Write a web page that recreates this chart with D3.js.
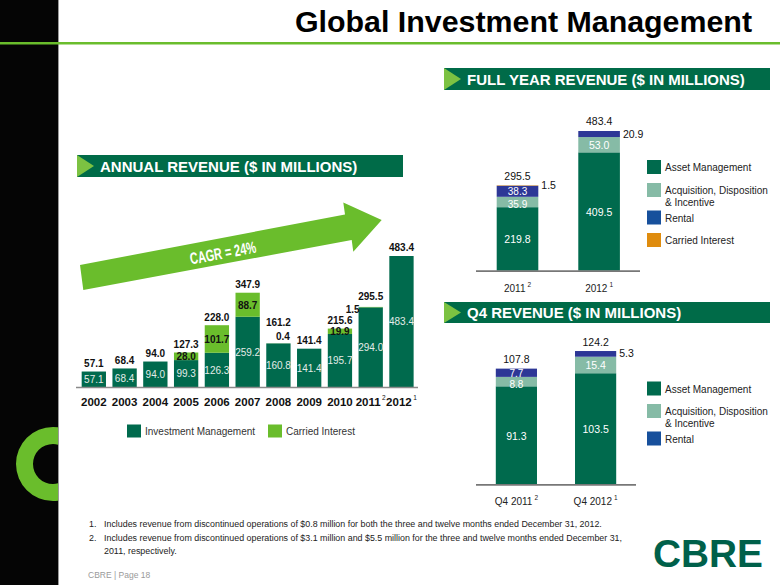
<!DOCTYPE html>
<html><head><meta charset="utf-8">
<script src="https://cdn.jsdelivr.net/npm/d3@7"></script>
<style>
html,body{margin:0;padding:0;background:#fff;}
svg{display:block;font-family:"Liberation Sans",Arial,sans-serif;}
</style></head>
<body><svg id="c" width="780" height="585"></svg>
<script>
// ---------- DATA ----------
const years = ["2002","2003","2004","2005","2006","2007","2008","2009","2010","2011","2012"];
const yearNotes = ["","","","","","","","","","2","1"];
const investMgmt = [57.1,68.4,94.0,99.3,126.3,259.2,160.8,141.4,195.7,294.0,483.4];
const carriedInt = [0,0,0,28.0,101.7,88.7,0.4,0,19.9,1.5,0];
const annualTotals = [57.1,68.4,94.0,127.3,228.0,347.9,161.2,141.4,215.6,295.5,483.4];

const fyCats = ["2011","2012"];
const fyNotes = ["2","1"];
const fyAsset = [219.8,409.5];
const fyAcq = [35.9,53.0];
const fyRental = [38.3,20.9];
const fyCarried = [1.5,0];
const fyTotals = [295.5,483.4];

const q4Cats = ["Q4 2011","Q4 2012"];
const q4Notes = ["2","1"];
const q4Asset = [91.3,103.5];
const q4Acq = [8.8,15.4];
const q4Rental = [7.7,5.3];
const q4Totals = [107.8,124.2];

const footnotes = [
  ["1.","Includes revenue from discontinued operations of $0.8 million for both the three and twelve months ended December 31, 2012."],
  ["2.","Includes revenue from discontinued operations of $3.1 million and $5.5 million for the three and twelve months ended December 31,"],
  ["","2011, respectively."]
];

// ---------- STYLE ----------
const C = {dark:"#006A4D", lime:"#6ABD2C", teal:"#86BBA6", rental:"#2D3796", rentalLeg:"#17509C", orange:"#DF8C0E", grey:"#8a8a8a"};
const fmt = d3.format(".1f");
const svg = d3.select("#c");

// ---------- FRAME ----------
svg.append("rect").attr("x",0).attr("y",0).attr("width",58).attr("height",585).attr("fill","#050505");
svg.append("line").attr("x1",58.5).attr("x2",58.5).attr("y1",0).attr("y2",585).attr("stroke","#9a9a9a").attr("stroke-width",1);
svg.append("defs").append("clipPath").attr("id","strip").append("rect").attr("x",0).attr("y",0).attr("width",58).attr("height",585);
svg.append("g").attr("clip-path","url(#strip)")
  .append("path")
  .attr("d", d3.arc().innerRadius(20).outerRadius(37).startAngle(0).endAngle(2*Math.PI)())
  .attr("transform","translate(53,464)").attr("fill",C.lime);
svg.append("rect").attr("x",0).attr("y",42).attr("width",780).attr("height",2.5).attr("fill",C.lime);
svg.append("text").attr("x",752).attr("y",32).attr("text-anchor","end")
  .attr("font-size",29).attr("font-weight","bold").attr("fill","#000")
  .attr("textLength",457).attr("lengthAdjust","spacingAndGlyphs")
  .text("Global Investment Management");

function header(x0,x1,y0,y1,label){
  svg.append("rect").attr("x",x0).attr("y",y0).attr("width",x1-x0).attr("height",y1-y0).attr("fill","#006B48");
  const h=y1-y0;
  svg.append("path").attr("d",`M${x0},${y0}L${x0+17},${y0+h/2}L${x0},${y1}Z`).attr("fill","#7CC242");
  svg.append("text").attr("x",x0+23).attr("y",y0+h/2+5.5).attr("font-size",15).attr("font-weight","bold")
    .attr("fill","#fff").text(label);
}
header(77,403,155,177,"ANNUAL REVENUE ($ IN MILLIONS)");
header(444,770,68,90,"FULL YEAR REVENUE ($ IN MILLIONS)");
header(444,770,302,323,"Q4 REVENUE ($ IN MILLIONS)");

// ---------- CAGR ARROW ----------
svg.append("path").attr("d","M80,265L345,214.5L343.3,202.5L381.7,220L353.3,251.7L351.7,240L83.3,290Z").attr("fill",C.lime);
svg.append("text").attr("transform","translate(224,258.5) rotate(-10.5)").attr("text-anchor","middle")
  .attr("font-family","'Liberation Sans Narrow','Liberation Sans',Arial,sans-serif")
  .attr("font-size",16.5).attr("font-weight","bold").attr("fill","#fff")
  .attr("textLength",67).attr("lengthAdjust","spacingAndGlyphs").text("CAGR = 24%");

// ---------- ANNUAL CHART ----------
const ax = d3.scaleBand().domain(years).range([78.6,416.7]).paddingInner(0.21).paddingOuter(0.1);
const ay = d3.scaleLinear().domain([0,500]).range([387,251.5]);
const ag = svg.append("g");
ag.selectAll("rect.im").data(years).join("rect")
  .attr("x",d=>ax(d)).attr("width",ax.bandwidth())
  .attr("y",(d,i)=>ay(investMgmt[i])).attr("height",(d,i)=>ay(0)-ay(investMgmt[i])).attr("fill",C.dark);
ag.selectAll("rect.ci").data(years).join("rect")
  .attr("x",d=>ax(d)).attr("width",ax.bandwidth())
  .attr("y",(d,i)=>ay(investMgmt[i]+carriedInt[i])).attr("height",(d,i)=>ay(investMgmt[i])-ay(investMgmt[i]+carriedInt[i]))
  .attr("fill",C.lime);
const axisA = ag.append("g").attr("transform",`translate(0,${ay(0)})`)
  .call(d3.axisBottom(ax).tickSize(0).tickPadding(11).tickSizeOuter(0));
axisA.select(".domain").remove();
ag.append("line").attr("x1",76).attr("x2",418).attr("y1",ay(0)+0.5).attr("y2",ay(0)+0.5).attr("stroke",C.grey).attr("stroke-width",1.5);
axisA.selectAll(".tick text").attr("font-size",11.5).attr("font-weight","bold").attr("fill","#111")
  .attr("font-family","'Liberation Sans',Arial,sans-serif")
  .each(function(d,i){ const n=yearNotes[i]; if(n){ d3.select(this).append("tspan").attr("font-size",6.5).attr("font-weight","normal").attr("dy",-6).attr("dx",1.5).text(n);} });
ag.selectAll("text.im").data(years).join("text")
  .attr("x",d=>ax(d)+ax.bandwidth()/2).attr("y",(d,i)=>(ay(investMgmt[i])+ay(0))/2+3.8)
  .attr("text-anchor","middle").attr("font-size",10).attr("fill","#e4ece8")
  .text((d,i)=>fmt(investMgmt[i]));
years.forEach((d,i)=>{
  const v=carriedInt[i]; if(!v) return;
  const cx=ax(d)+ax.bandwidth()/2;
  const top=ay(investMgmt[i]+v), bot=ay(investMgmt[i]);
  if(v<1){
    ag.append("text").attr("x",cx+4.5).attr("y",top-3).attr("text-anchor","middle").attr("font-size",10).attr("font-weight","bold").attr("fill","#111").text(fmt(v));
  } else if(v<5){
    ag.append("text").attr("x",ax(d)+1).attr("y",top+6.5).attr("text-anchor","end").attr("font-size",10).attr("font-weight","bold").attr("fill","#111").text(fmt(v));
  } else {
    ag.append("text").attr("x",cx).attr("y",(top+bot)/2+3.8).attr("text-anchor","middle").attr("font-size",10).attr("font-weight","bold").attr("fill","#111").text(fmt(v));
  }
});
ag.selectAll("text.tot").data(years).join("text")
  .attr("x",d=>ax(d)+ax.bandwidth()/2)
  .attr("y",(d,i)=>ay(annualTotals[i]) - 4.5 - ((carriedInt[i]>0 && carriedInt[i]<1)?13:0) - ((carriedInt[i]>=1 && carriedInt[i]<5)?2:0))
  .attr("text-anchor","middle").attr("font-size",10).attr("font-weight","bold").attr("fill","#111")
  .text((d,i)=>fmt(annualTotals[i]));
const alg=[["Investment Management",C.dark,127],["Carried Interest",C.lime,268]];
alg.forEach(([t,c,x])=>{
  svg.append("rect").attr("x",x).attr("y",424.5).attr("width",14).attr("height",13).attr("fill",c);
  svg.append("text").attr("x",x+18).attr("y",434.5).attr("font-size",10).attr("fill","#333").text(t);
});

// ---------- STACKED HELPER ----------
function stacked(cats,notes,series,totals,x,y,baseX0,baseX1,catY){
  const g=svg.append("g");
  const keys=series.map(s=>s.key);
  const rows=cats.map((c,i)=>{const o={cat:c}; series.forEach(s=>o[s.key]=s.vals[i]); return o;});
  const st=d3.stack().keys(keys)(rows);
  st.forEach((layer,li)=>{
    g.selectAll(null).data(layer).join("rect")
      .attr("x",d=>x(d.data.cat)).attr("width",x.bandwidth())
      .attr("y",d=>y(d[1])).attr("height",d=>y(d[0])-y(d[1])).attr("fill",series[li].color);
  });
  st.forEach((layer,li)=>{
    layer.forEach(d=>{
      const v=d[1]-d[0]; if(!v) return;
      const h=y(d[0])-y(d[1]);
      const mid=(y(d[0])+y(d[1]))/2;
      if(h>=8){
        const small=h<13;
        g.append("text").attr("x",x(d.data.cat)+x.bandwidth()/2)
          .attr("y",mid+(small?(li===1?6:4):4.5))
          .attr("text-anchor","middle").attr("font-size",small?10:10.5).attr("fill","#fff").text(fmt(v));
      } else {
        g.append("text").attr("x",x(d.data.cat)+x.bandwidth()+3).attr("y",mid+3.5)
          .attr("font-size",10.5).attr("fill","#111").text(fmt(v));
      }
    });
  });
  g.selectAll(null).data(cats).join("text")
    .attr("x",d=>x(d)+x.bandwidth()/2).attr("y",(d,i)=>y(totals[i])-5.5).attr("text-anchor","middle")
    .attr("font-size",10.5).attr("fill","#111").text((d,i)=>fmt(totals[i]));
  g.append("line").attr("x1",baseX0).attr("x2",baseX1).attr("y1",y(0)+0.5).attr("y2",y(0)+0.5).attr("stroke","#777").attr("stroke-width",1.8);
  const axG=g.append("g").attr("transform",`translate(0,${catY})`).call(d3.axisBottom(x).tickSize(0).tickPadding(0));
  axG.select(".domain").remove();
  axG.selectAll(".tick text").attr("font-size",10).attr("fill","#222").attr("dy",0)
    .attr("font-family","'Liberation Sans',Arial,sans-serif")
    .each(function(d,i){ d3.select(this).append("tspan").attr("font-size",6.5).attr("dy",-5).attr("dx",2).text(notes[i]); });
}
function legend(items,x,ys){
  items.forEach((it,i)=>{
    svg.append("rect").attr("x",x).attr("y",ys[i]).attr("width",14).attr("height",14).attr("fill",it[1]);
    it[0].forEach((line,j)=>{
      svg.append("text").attr("x",x+18).attr("y",ys[i]+11+j*11.5).attr("font-size",10).attr("fill","#222").text(line);
    });
  });
}

// ---------- FULL YEAR ----------
const fx=d3.scaleBand().domain(fyCats).range([476.3,640.3]).paddingInner(0.49).paddingOuter(0.25);
const fy=d3.scaleLinear().domain([0,500]).range([270.7,126.2]);
stacked(fyCats,fyNotes,[
  {key:"asset",vals:fyAsset,color:C.dark},
  {key:"acq",vals:fyAcq,color:C.teal},
  {key:"rental",vals:fyRental,color:C.rental},
  {key:"carried",vals:fyCarried,color:C.orange}],fyTotals,fx,fy,476,640,292);
legend([[["Asset Management"],C.dark],[["Acquisition, Disposition","& Incentive"],C.teal],[["Rental"],C.rentalLeg],[["Carried Interest"],C.orange]],647,[160,183,210.5,233]);

// ---------- Q4 ----------
const qx=d3.scaleBand().domain(q4Cats).range([476,636]).paddingInner(0.48).paddingOuter(0.25);
const qy=d3.scaleLinear().domain([0,130]).range([484.3,344.8]);
stacked(q4Cats,q4Notes,[
  {key:"asset",vals:q4Asset,color:C.dark},
  {key:"acq",vals:q4Acq,color:C.teal},
  {key:"rental",vals:q4Rental,color:C.rental}],q4Totals,qx,qy,476,636,505);
legend([[["Asset Management"],C.dark],[["Acquisition, Disposition","& Incentive"],C.teal],[["Rental"],C.rentalLeg]],647,[381.5,404,431.5]);

// ---------- FOOTNOTES ----------
const fy0=[527,541,553.5];
footnotes.forEach((f,i)=>{
  if(f[0]) svg.append("text").attr("x",89).attr("y",fy0[i]).attr("font-size",8.9).attr("fill","#222").text(f[0]);
  svg.append("text").attr("x",104).attr("y",fy0[i]).attr("font-size",8.9).attr("fill","#222").text(f[1]);
});
svg.append("text").attr("x",88).attr("y",578).attr("font-size",8.5).attr("fill","#9a9a9a").text("CBRE  |  Page 18");
svg.append("text").attr("x",653).attr("y",566.5).attr("font-size",39).attr("font-weight","900")
  .attr("fill","#00604A").attr("textLength",110).attr("lengthAdjust","spacingAndGlyphs").text("CBRE");
</script></body></html>
